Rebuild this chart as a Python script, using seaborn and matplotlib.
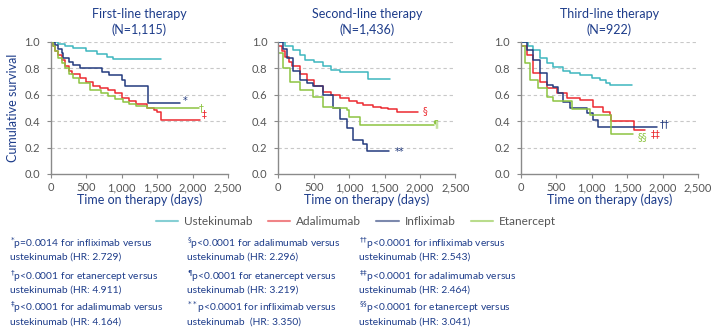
import matplotlib
matplotlib.use("Agg")
import matplotlib.pyplot as plt
import seaborn as sns
import pandas as pd
from matplotlib.lines import Line2D

# ---------------- data ----------------
drugs = ["Ustekinumab", "Adalimumab", "Infliximab", "Etanercept"]
panel_titles = ["First-line therapy\n(N=1,115)", "Second-line therapy\n(N=1,436)", "Third-line therapy\n(N=922)"]
x_ticks = [0, 500, 1000, 1500, 2000, 2500]
x_tick_labels = ["0", "500", "1,000", "1,500", "2,000", "2,500"]
y_ticks = [0.0, 0.2, 0.4, 0.6, 0.8, 1.0]

# first-line
p1_ust_t = [0, 100, 200, 315, 500, 650, 786, 880, 1550]
p1_ust_s = [1.0, 0.985, 0.97, 0.952, 0.93, 0.91, 0.89, 0.875, 0.875]
p1_ada_t = [0, 30, 60, 100, 150, 200, 250, 300, 410, 500, 600, 692, 800, 900, 1000, 1100, 1200, 1352, 1450, 1500, 1560, 2100]
p1_ada_s = [1.0, 0.97, 0.93, 0.90, 0.86, 0.82, 0.78, 0.76, 0.725, 0.70, 0.67, 0.65, 0.635, 0.61, 0.575, 0.55, 0.53, 0.50, 0.485, 0.47, 0.41, 0.41]
p1_inf_t = [0, 60, 100, 150, 175, 250, 315, 410, 718, 824, 1000, 1045, 1373, 1820]
p1_inf_s = [1.0, 0.98, 0.95, 0.92, 0.88, 0.85, 0.825, 0.80, 0.775, 0.75, 0.71, 0.67, 0.535, 0.535]
p1_eta_t = [0, 30, 60, 100, 150, 200, 250, 315, 400, 550, 700, 800, 900, 1021, 1100, 1200, 1352, 2090]
p1_eta_s = [1.0, 0.97, 0.93, 0.88, 0.84, 0.80, 0.76, 0.725, 0.69, 0.636, 0.61, 0.59, 0.565, 0.548, 0.53, 0.515, 0.498, 0.498]

# second-line
p2_ust_t = [0, 100, 212, 300, 377, 500, 637, 750, 873, 1274, 1580]
p2_ust_s = [1.0, 0.97, 0.94, 0.90, 0.865, 0.845, 0.815, 0.79, 0.775, 0.72, 0.72]
p2_ada_t = [0, 50, 100, 150, 200, 300, 400, 500, 637, 750, 872, 1000, 1108, 1200, 1344, 1450, 1550, 1675, 1980]
p2_ada_s = [0.97, 0.93, 0.89, 0.85, 0.815, 0.76, 0.713, 0.67, 0.625, 0.60, 0.575, 0.555, 0.537, 0.525, 0.51, 0.50, 0.49, 0.47, 0.47]
p2_inf_t = [0, 60, 118, 212, 307, 401, 495, 637, 778, 873, 967, 1061, 1203, 1250, 1557]
p2_inf_s = [1.0, 0.95, 0.878, 0.777, 0.714, 0.689, 0.663, 0.60, 0.50, 0.42, 0.347, 0.26, 0.23, 0.175, 0.175]
p2_eta_t = [0, 71, 165, 307, 495, 637, 778, 967, 1000, 1156, 2193]
p2_eta_s = [0.916, 0.80, 0.70, 0.64, 0.587, 0.51, 0.50, 0.486, 0.435, 0.372, 0.372]

# third-line
p3_ust_t = [0, 100, 174, 268, 362, 456, 597, 692, 832, 1000, 1116, 1200, 1257, 1570]
p3_ust_s = [1.0, 0.97, 0.94, 0.88, 0.84, 0.81, 0.78, 0.765, 0.75, 0.73, 0.71, 0.69, 0.675, 0.675]
p3_ada_t = [0, 80, 174, 268, 362, 503, 644, 832, 1020, 1161, 1255, 1278, 1593, 1748]
p3_ada_s = [0.97, 0.904, 0.765, 0.70, 0.65, 0.613, 0.575, 0.562, 0.511, 0.473, 0.448, 0.405, 0.33, 0.33]
p3_inf_t = [0, 80, 174, 268, 362, 456, 527, 597, 692, 927, 1021, 1092, 1916]
p3_inf_s = [1.0, 0.94, 0.864, 0.763, 0.674, 0.66, 0.61, 0.548, 0.498, 0.46, 0.41, 0.354, 0.354]
p3_eta_t = [0, 56, 127, 244, 362, 456, 667, 714, 973, 1278, 1584]
p3_eta_s = [0.967, 0.84, 0.714, 0.65, 0.587, 0.55, 0.55, 0.49, 0.448, 0.30, 0.30]

# significance markers
mark_panel = [0, 0, 0, 1, 1, 1, 2, 2, 2]
mark_sym = ["*", "\u2020", "\u2021", "\u00a7", "\u00b6", "**", "\u2020\u2020", "\u2021\u2021", "\u00a7\u00a7"]
mark_drug = ["Infliximab", "Etanercept", "Adalimumab", "Adalimumab", "Etanercept", "Infliximab", "Infliximab", "Adalimumab", "Etanercept"]
mark_x = [1860, 2080, 2130, 2040, 2180, 1650, 1960, 1830, 1650]
mark_y = [0.55, 0.50, 0.45, 0.475, 0.38, 0.17, 0.375, 0.30, 0.28]

footnotes = [
    ["$^{*}$p=0.0014 for infliximab versus", "ustekinumab (HR: 2.729)",
     "$^{\u2020}$p<0.0001 for etanercept versus", "ustekinumab (HR: 4.911)",
     "$^{\u2021}$p<0.0001 for adalimumab versus", "ustekinumab (HR: 4.164)"],
    ["$^{\u00a7}$p<0.0001 for adalimumab versus", "ustekinumab (HR: 2.296)",
     "$^{\u00b6}$p<0.0001 for etanercept versus", "ustekinumab (HR: 3.219)",
     "$^{**}$p<0.0001 for infliximab versus", "ustekinumab  (HR: 3.350)"],
    ["$^{\u2020\u2020}$p<0.0001 for infliximab versus", "ustekinumab (HR: 2.543)",
     "$^{\u2021\u2021}$p<0.0001 for adalimumab versus", "ustekinumab (HR: 2.464)",
     "$^{\u00a7\u00a7}$p<0.0001 for etanercept versus", "ustekinumab (HR: 3.041)"],
]

series = {
    0: {"Ustekinumab": (p1_ust_t, p1_ust_s), "Adalimumab": (p1_ada_t, p1_ada_s),
        "Infliximab": (p1_inf_t, p1_inf_s), "Etanercept": (p1_eta_t, p1_eta_s)},
    1: {"Ustekinumab": (p2_ust_t, p2_ust_s), "Adalimumab": (p2_ada_t, p2_ada_s),
        "Infliximab": (p2_inf_t, p2_inf_s), "Etanercept": (p2_eta_t, p2_eta_s)},
    2: {"Ustekinumab": (p3_ust_t, p3_ust_s), "Adalimumab": (p3_ada_t, p3_ada_s),
        "Infliximab": (p3_inf_t, p3_inf_s), "Etanercept": (p3_eta_t, p3_eta_s)},
}

# ---------------- style ----------------
sns.set_theme(style="white")
plt.rcParams["font.family"] = ["Lato", "DejaVu Sans"]
plt.rcParams["mathtext.fontset"] = "dejavusans"

navy_text = "#1d3c8a"
gray_text = "#555555"
colors = {"Ustekinumab": "#3db6bf", "Adalimumab": "#ec2a30",
          "Infliximab": "#233b7e", "Etanercept": "#8dc441"}
legend_colors = {"Ustekinumab": "#86cfd4", "Adalimumab": "#f08487",
                 "Infliximab": "#7c89ad", "Etanercept": "#b9dc8c"}

W, H = 719, 335
fig = plt.figure(figsize=(W / 100, H / 100), dpi=100)

lefts = [51, 278.3, 521]
ax_w = 177
top, bottom = 42, 174

for i in range(3):
    ax = fig.add_axes([lefts[i] / W, 1 - bottom / H, ax_w / W, (bottom - top) / H])
    for d in drugs:
        t, s = series[i][d]
        df = pd.DataFrame({"day": t, "surv": s})
        sns.lineplot(data=df, x="day", y="surv", ax=ax, color=colors[d],
                     drawstyle="steps-post", estimator=None, sort=False,
                     linewidth=1.1, legend=False)
    ax.set_xlim(0, 2500)
    ax.set_ylim(0, 1.0)
    ax.set_xticks(x_ticks)
    ax.set_xticklabels(x_tick_labels)
    ax.set_yticks(y_ticks)
    ax.set_yticklabels([f"{v:.1f}" for v in y_ticks])
    for v in y_ticks[1:]:
        ax.axhline(v, color="#c8c8c8", lw=0.8, ls=(0, (3, 2.5)), zorder=0)
    for side in ["top", "right"]:
        ax.spines[side].set_visible(False)
    for side in ["left", "bottom"]:
        ax.spines[side].set_color("#8a8a8a")
        ax.spines[side].set_linewidth(1.0)
    ax.tick_params(axis="both", which="major", direction="out", length=3, width=0.8,
                   color="#8a8a8a", labelsize=8, labelcolor=gray_text, pad=3,
                   bottom=True, left=True)
    ax.tick_params(axis="y", pad=5)
    ax.set_title(panel_titles[i], color=navy_text, fontsize=9, pad=6, linespacing=1.25)
    ax.set_xlabel("Time on therapy (days)", color=navy_text, fontsize=9, labelpad=0)
    if i == 0:
        ax.set_ylabel("Cumulative survival", color=navy_text, fontsize=9, labelpad=4)
    else:
        ax.set_ylabel("")
    for k in range(len(mark_sym)):
        if mark_panel[k] == i:
            ax.text(mark_x[k], mark_y[k], mark_sym[k], color=colors[mark_drug[k]],
                    fontsize=7, ha="left", va="center", family=["DejaVu Sans"])

# legend
handles = [Line2D([0], [0], color=legend_colors[d], lw=1.5) for d in drugs]
fig.legend(handles, drugs, loc="center", bbox_to_anchor=(356 / W, 1 - 222 / H),
           ncol=4, frameon=False, fontsize=8.5, labelcolor=gray_text,
           handlelength=1.9, handletextpad=0.5, columnspacing=1.3)

# footnotes
col_x = [10, 187, 359]
row_y = [243, 257, 276, 290, 307, 322]
for c in range(3):
    for r in range(6):
        fig.text(col_x[c] / W, 1 - row_y[r] / H, footnotes[c][r], color=navy_text,
                 fontsize=7.4, ha="left", va="center")

fig.savefig("out.png", dpi=100)
